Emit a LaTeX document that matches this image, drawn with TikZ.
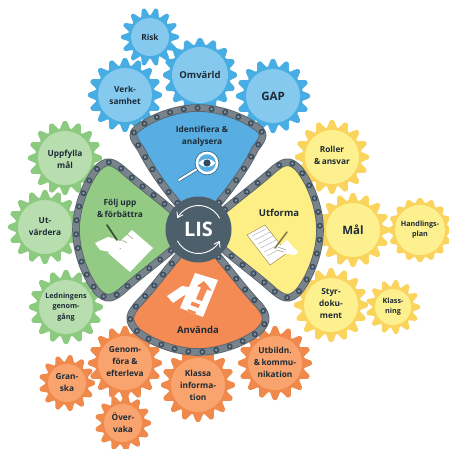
\documentclass[tikz,border=0pt]{standalone}
\usepackage{fontspec}
\setmainfont{Open Sans}
\usetikzlibrary{decorations.markings,arrows.meta}
\definecolor{ink}{HTML}{1E2B36}
\definecolor{bo}{HTML}{48ADE2}\definecolor{bi}{HTML}{85C9EE}\definecolor{bl}{HTML}{58AEE3}
\definecolor{go}{HTML}{8CCB7F}\definecolor{gi}{HTML}{B8DDAE}\definecolor{gl}{HTML}{93CB85}
\definecolor{yo}{HTML}{FBD45E}\definecolor{yi}{HTML}{FDF08E}\definecolor{yl}{HTML}{FDEE85}
\definecolor{oo}{HTML}{F0894C}\definecolor{oi}{HTML}{F9A46F}\definecolor{ol}{HTML}{F48A54}
\definecolor{chainc}{HTML}{78838C}\definecolor{chaind}{HTML}{59656F}\definecolor{pindark}{HTML}{3E4C58}\definecolor{pinlight}{HTML}{7E97AE}
\definecolor{lisc}{HTML}{4E5F6C}
\tikzset{
  x=1pt,y=-1pt,
  lab/.style={font=\bfseries\fontsize{8.3}{12}\selectfont,text=ink,align=center,inner sep=0pt},
  labb/.style={lab,font=\bfseries\fontsize{9.5}{12}\selectfont},
  labl/.style={lab,font=\bfseries\fontsize{11.5}{12}\selectfont},
  labs/.style={lab,font=\bfseries\fontsize{7.2}{10.2}\selectfont},
  chainline/.style={line width=7.6pt,draw=chaind,line join=round},
  chainplate/.style={line width=5.8pt,draw=chainc,line join=round},
  pins/.style={postaction={decorate,decoration={markings,mark=between positions 4pt and 1 step 14pt with {\fill[fill=pindark] (0,0) circle (3pt);\fill[fill=pinlight] (0,0) circle (1.5pt);}}}},
}
\newcommand{\cog}[7]{% x y body outer teeth tooth disc
  \begin{scope}[shift={(#1,#2)}]
  \fill[#6,line join=round] plot[domain=0:360,samples=#5*12+1] (\x:{#3+1.5+(#4-#3-1.5)*min(1,1.12*(0.5+0.5*cos(#5*\x)))}) -- cycle;
  \fill[#7] (0,0) circle ({#3-1});
  \end{scope}
}
\newcommand{\lobepath}[2]{(-18,-24) .. controls (-32,-40) and (-48,-62) .. ({-#1+9},{-#2+14}) .. controls ({-#1+3},{-#2+6}) and ({-#1-3},{-#2-1}) .. (-60,-102) .. controls (-44,-114) and (-20,-122) .. (0,-122) .. controls (20,-122) and (44,-114) .. (60,-102) .. controls ({#1+3},{-#2-1}) and ({#1-3},{-#2+6}) .. ({#1-9},{-#2+14}) .. controls (48,-62) and (32,-40) .. (18,-24)}
\newcommand{\lobe}[4]{% rotation colour a b
  \begin{scope}[shift={(198,230)},rotate=#1]
  \fill[#2] \lobepath{#3}{#4} -- cycle;
  \draw[chainline] \lobepath{#3}{#4};
  \draw[chainplate,pins] \lobepath{#3}{#4};
  \end{scope}
}
\begin{document}
\begin{tikzpicture}
\useasboundingbox (0,0) rectangle (449,448);
\fill[white] (0,0) rectangle (449,448);
% blue gears
\cog{150}{37}{20}{29}{14}{bo}{bi}
\cog{200}{75}{29}{37}{16}{bo}{bi}
\cog{125}{95}{28}{37}{16}{bo}{bi}
\cog{273}{96}{28}{37}{16}{bo}{bi}
% green gears
\cog{65}{158}{28}{37}{16}{go}{gi}
\cog{45}{227}{28}{37}{16}{go}{gi}
\cog{66}{307}{28}{37}{16}{go}{gi}
% yellow gears
\cog{332}{157}{28}{37}{16}{yo}{yi}
\cog{353}{230}{28}{37}{16}{yo}{yi}
\cog{420}{230}{26}{32}{16}{yo}{yi}
\cog{331}{305}{28}{37}{16}{yo}{yi}
\cog{393}{307}{19}{27}{13}{yo}{yi}
% orange gears
\cog{125}{363}{28}{37}{16}{oo}{oi}
\cog{198}{385}{28}{37}{16}{oo}{oi}
\cog{275}{363}{28}{37}{16}{oo}{oi}
\cog{67}{383}{20}{28}{13}{oo}{oi}
\cog{123}{423}{20}{28}{13}{oo}{oi}
% lobes
\lobe{0}{bl}{66}{95}
\lobe{90}{gl}{70}{90}
\lobe{270}{yl}{70}{90}
\lobe{180}{ol}{70}{89}
% magnifier
\draw[bl!60!black,line width=3.4pt,line cap=round] (197,169) -- (179,180);
\draw[white,line width=2pt,line cap=round] (197,169) -- (179,180);
\fill[bl!60!black] (207,163) circle (12.2);
\fill[white] (207,163) circle (11.4);
\fill[bl] (207,163) circle (8.8);
\fill[white] (198.5,163) .. controls (203,157.5) and (211,157.5) .. (215.5,163) .. controls (211,168.5) and (203,168.5) .. (198.5,163) -- cycle;
\fill[ink!75!bl] (207,163) circle (3.6);
% green icon
\fill[white] (132,230) -- (153,248) -- (130,272) -- (108,253) -- cycle;
\draw[gl!40!black!60,line width=.5pt] (122,240) -- (127,243) (127,234) -- (133,239) (116,245) -- (121,249);
\fill[white] (95,243) -- (108,237) -- (116,239) -- (123,243) -- (122,247) -- (110,252) -- (100,250) -- cycle;
\draw[gl!40!black,line width=1.7pt,line cap=round] (107,225) -- (117,240);
% yellow icon
\fill[white,draw=yo!60!black,line width=.4pt] (247,235) -- (265,225) -- (287,253) -- (270,265) -- cycle;
\draw[black!35,line width=.4pt] (252,236) -- (266,229) (255,240) -- (270,232) (258,244) -- (273,236) (261,248) -- (276,240) (264,252) -- (276,246) (267,256) -- (276,251);
\fill[white] (275,250) -- (287,240) -- (298,252) -- (295,255) -- (280,253) -- cycle;
\draw[yo!40!black!80!white,line width=1.5pt,line cap=round] (287,232) -- (275,248);
\draw[black!45,line width=.4pt] (276,250) -- (284,252) (278,247) -- (286,250);
% orange icon
\fill[white] (195,273) -- (218,280) -- (203,317) -- (180,308) -- cycle;
\fill[ol] (204,281) -- (212,291) -- (207,289.5) -- (202,301) -- (196,299) -- (201,287.5) -- (197,286) -- cycle;
\fill[ol] (192,301.5) -- (200,304.5) -- (198.5,308) -- (190.5,305) -- cycle;
\fill[ol] (188,309) -- (196,312) -- (195.3,314) -- (187.3,311) -- cycle;
\fill[white] (167,296) -- (182,286) -- (195,288) -- (193,291) -- (183,296) -- (173,303) -- cycle;
% hub
\fill[lisc] (198.5,229.5) circle (33);
\draw[white,line width=.9pt,-{Straight Barb[length=5pt,width=7pt]}] (198.5,229.5) ++(152:24) arc[start angle=152,end angle=28,radius=24];
\draw[white,line width=.9pt,-{Straight Barb[length=5pt,width=7pt]}] (198.5,229.5) ++(-28:24) arc[start angle=-28,end angle=-152,radius=24];
\node[font=\bfseries\fontsize{20}{20}\selectfont,text=white,inner sep=0pt] (hub) at (198.5,229.5) {LIS};
% lobe titles
\node[lab] (identifiera) at (202,136) {Identifiera \&\\analysera};
\node[lab] (folj) at (120,208) {Följ upp\\\&\,förbättra};
\node[labb] (utforma) at (279,213) {Utforma};
\node[labb] (anvanda) at (198,330) {Använda};
% gear labels
\node[lab] (risk) at (150,37) {Risk};
\node[labb] (omvarld) at (200,75) {Omvärld};
\node[lab] (verk) at (125,95) {Verk-\\samhet};
\node[labl] (gap) at (273,96) {GAP};
\node[lab] (uppfylla) at (65,159) {Uppfylla\\mål};
\node[lab] (utv) at (45,227) {Ut-\\värdera};
\node[labs] (ledning) at (66,307) {Ledningens\\genom-\\gång};
\node[lab] (roller) at (332,155) {Roller\\\&\,ansvar};
\node[labl] (mal) at (353,230) {Mål};
\node[labs] (handling) at (420,230) {Handlings-\\plan};
\node[lab] (styr) at (331,304) {Styr-\\doku-\\ment};
\node[labs] (klass) at (393,307) {Klass-\\ning};
\node[lab] (genom) at (125,362) {Genom-\\föra \&\\efterleva};
\node[lab] (klassa) at (198,385) {Klassa\\informa-\\tion};
\node[lab] (utb) at (275,362) {Utbildn.\\\&\,kommu-\\nikation};
\node[lab] (gran) at (67,383) {Gran-\\ska};
\node[lab] (overv) at (123,423) {Över-\\vaka};
\end{tikzpicture}
\end{document}
